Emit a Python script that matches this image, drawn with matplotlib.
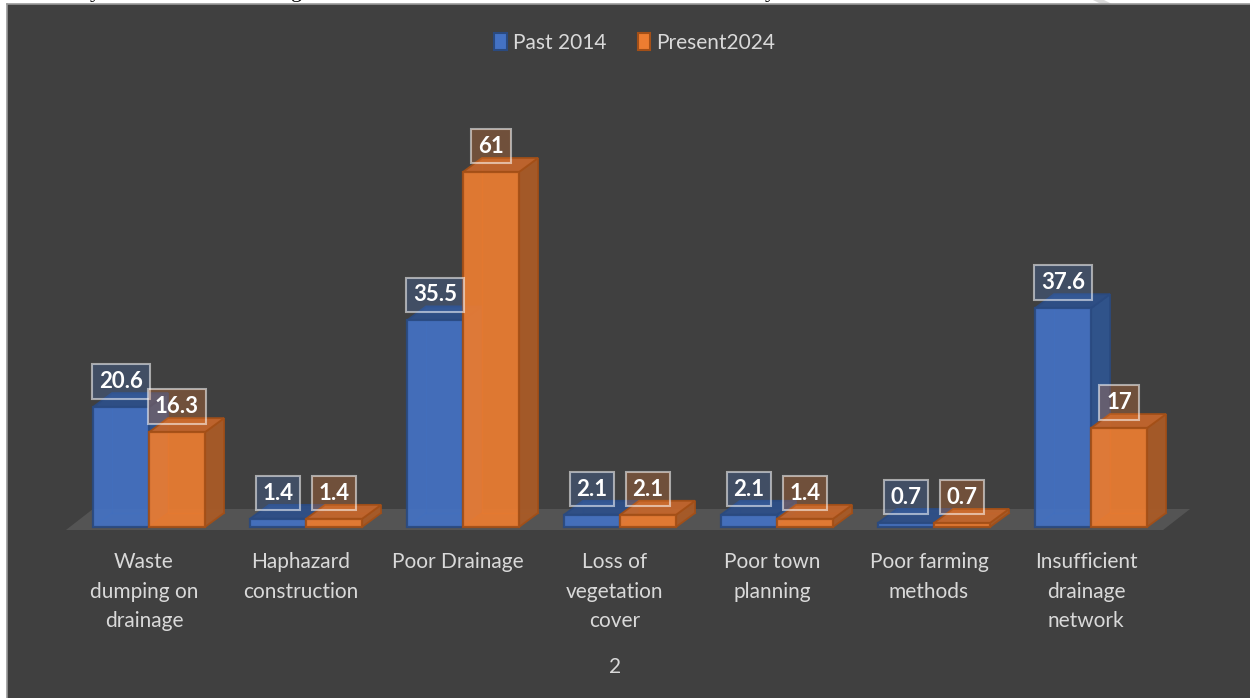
import matplotlib
matplotlib.use("Agg")
import matplotlib.pyplot as plt
from matplotlib.patches import Polygon, Rectangle, Patch
from matplotlib.lines import Line2D
import matplotlib.transforms as mtransforms

# ---------------- data ----------------
categories = ["Waste\ndumping on\ndrainage", "Haphazard\nconstruction", "Poor Drainage",
              "Loss of\nvegetation\ncover", "Poor town\nplanning", "Poor farming\nmethods",
              "Insufficient\ndrainage\nnetwork"]
past_2014 = [20.6, 1.4, 35.5, 2.1, 2.1, 0.7, 37.6]
present_2024 = [16.3, 1.4, 61, 2.1, 1.4, 0.7, 17]
series_names = ["Past 2014", "Present2024"]
axis_title = "2"

# ---------------- style ----------------
W, H = 1250, 698
BG = "#404040"
TXT = "#D9D9D9"
FONT = "Lato"
styles = [
    dict(front="#4472C4", side="#30558F", top="#2E4F88", edge="#2A4A80", lab=(0.27, 0.45, 0.77, 0.28)),
    dict(front="#ED7D31", side="#A95B27", top="#C4662C", edge="#A34F17", lab=(0.93, 0.49, 0.19, 0.28)),
]

def fx(x):
    return x / W

def fy(y):
    return 1 - y / H

fig = plt.figure(figsize=(W / 100, H / 100), dpi=100)
fig.patch.set_facecolor("white")

# chart area background
fig.patches.append(Rectangle((fx(7), 0), 1 - fx(7), fy(4), transform=fig.transFigure,
                             facecolor=BG, edgecolor="none", zorder=-1))
fig.add_artist(Line2D([fx(6.5), fx(6.5)], [0, fy(4)], color="#9A9A9A", lw=1.2, zorder=-0.5))
fig.add_artist(Line2D([fx(6.5), 1], [fy(3.5), fy(3.5)], color="#9A9A9A", lw=1.2, zorder=-0.5))
# fragments of document text above the chart (only descenders visible)
for xx, ch in [(90, "y"), (291, "g"), (765, "y")]:
    fig.text(fx(xx), fy(-2.5), ch, fontsize=16, family="Liberation Serif", color="black",
             va="baseline", zorder=-2)
fig.patches.append(Polygon([(fx(1093), 1), (fx(1104), 1), (fx(1112), fy(4)), (fx(1101), fy(4))],
                           closed=True, transform=fig.transFigure, facecolor="#DADADA",
                           edgecolor="none", zorder=-2))

# axes mapped so that value 0 sits at pixel row 527 and 5.82 px per unit,
# category spacing 157 px with first category centre at x=149
ppu_y = 5.82
ppu_x = 157.0
base_px = 527
ax_top, ax_bot, ax_left, ax_right = 60, 560, 7, 1250
ax = fig.add_axes([fx(ax_left), fy(ax_bot), fx(ax_right - ax_left), (ax_bot - ax_top) / H])
ax.set_xlim((ax_left - 149) / ppu_x, (ax_right - 149) / ppu_x)
ax.set_ylim(-(ax_bot - base_px) / ppu_y, (base_px - ax_top) / ppu_y)
ax.axis("off")
ax.patch.set_visible(False)

n = len(categories)
w = 56 / ppu_x
dx = 19 / ppu_x
dy = 14 / ppu_y

# floor
fdx, fdy = 27 / ppu_x, 21 / ppu_y
f0 = -3 / ppu_y
fl, fr = -0.529, n - 1 + 0.459
ax.add_patch(Polygon([(fl, f0), (fr, f0), (fr + fdx, f0 + fdy), (fl + fdx, f0 + fdy)],
                     closed=True, facecolor="#545454", edgecolor="none", zorder=1))

series = [past_2014, present_2024]
for s, vals in enumerate(series):
    st = styles[s]
    z = 2 + s * 4
    xs = [i - w + s * w for i in range(n)]
    for x0, v in zip(xs, vals):
        # hidden back edges (seen through translucent front)
        ax.plot([x0 + dx, x0 + dx, x0 + w + dx], [v + dy, dy, dy], color=st["edge"], lw=1.0,
                alpha=0.6, zorder=z)
        ax.plot([x0, x0 + dx], [0, dy], color=st["edge"], lw=1.0, alpha=0.6, zorder=z)
        # side face
        ax.add_patch(Polygon([(x0 + w, 0), (x0 + w + dx, dy), (x0 + w + dx, v + dy), (x0 + w, v)],
                             closed=True, facecolor=st["side"], edgecolor=st["edge"], lw=1.3,
                             alpha=0.95, zorder=z + 1))
        # top face
        ax.add_patch(Polygon([(x0, v), (x0 + w, v), (x0 + w + dx, v + dy), (x0 + dx, v + dy)],
                             closed=True, facecolor=st["top"], edgecolor=st["edge"], lw=1.3,
                             alpha=0.95, zorder=z + 1))
    ax.bar(xs, vals, width=w, align="edge", color=st["front"], alpha=0.92,
           edgecolor=st["edge"], linewidth=1.6, zorder=z + 2)

# data labels
for s, vals in enumerate(series):
    st = styles[s]
    for i, v in enumerate(vals):
        xc = i - w / 2 + s * w
        ax.annotate(f"{v:g}", xy=(xc, v), xytext=(0, 18.5), textcoords="offset points",
                    ha="center", va="center", fontsize=16, fontweight="bold", color="white",
                    family=FONT, zorder=20,
                    bbox=dict(boxstyle="square,pad=0.3", facecolor=st["lab"],
                              edgecolor=(1, 1, 1, 0.55), linewidth=1.5))

# category labels
trans = mtransforms.blended_transform_factory(ax.transData, fig.transFigure)
for i, lab in enumerate(categories):
    ax.text(i - 5 / ppu_x, fy(552), lab, transform=trans, ha="center", va="top",
            fontsize=15, color=TXT, family=FONT, linespacing=1.6)

# axis title
fig.text(fx(615), fy(667), axis_title, ha="center", va="center", fontsize=15, color=TXT,
         family=FONT)

# legend
handles = [Patch(facecolor=styles[s]["front"], edgecolor=styles[s]["edge"], linewidth=1.5)
           for s in range(2)]
leg = fig.legend(handles, series_names, loc="center", bbox_to_anchor=(fx(635), fy(43)),
                 ncol=2, frameon=False, handlelength=0.6, handleheight=0.9, handletextpad=0.3,
                 columnspacing=1.5, prop=dict(family=FONT, size=15))
for t in leg.get_texts():
    t.set_color(TXT)

fig.savefig("out.png", dpi=100, facecolor=fig.get_facecolor())
